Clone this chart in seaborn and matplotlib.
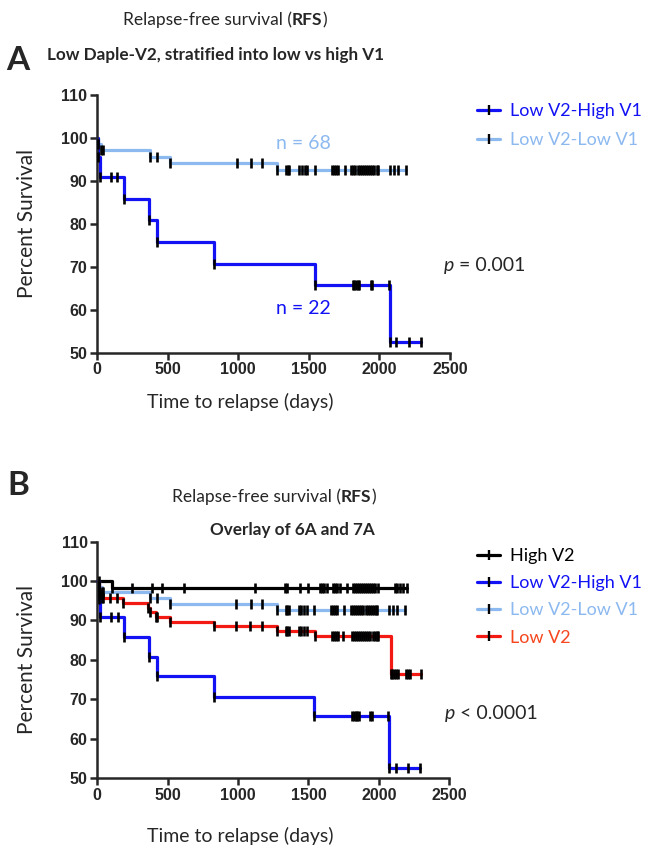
import numpy as np
import pandas as pd
import matplotlib
matplotlib.use("Agg")
import matplotlib.pyplot as plt
import seaborn as sns
from matplotlib.lines import Line2D

# Kaplan-Meier steps: time of each drop (days) and survival (%) after it, last point = end of follow-up
high_v1_t = [0, 10, 20, 191, 368, 422, 830, 1542, 2075, 2295]
high_v1_s = [100, 95.5, 90.9, 85.9, 80.8, 75.8, 70.7, 65.7, 52.5, 52.5]
high_v1_cens = [97, 144, 1810, 1822, 1834, 1846, 1858, 1938, 1950, 2068, 2120, 2210, 2295]

low_v1_t = [0, 10, 30, 375, 516, 1273, 2185]
low_v1_s = [100, 98.5, 97.1, 95.6, 94.1, 92.6, 92.6]
low_v1_cens = [40, 422, 988, 1089, 1172, 1337, 1350, 1363, 1430, 1450, 1470, 1487, 1542,
               1662, 1675, 1690, 1705, 1754, 1801, 1815, 1830, 1845, 1860, 1875, 1890,
               1905, 1920, 1935, 1950, 1965, 1980, 1990, 2072, 2100, 2131, 2185]

high_v2_t = [0, 102, 2198]
high_v2_s = [100, 98.1, 98.1]
high_v2_cens = [15, 244, 386, 458, 613, 1122, 1335, 1350, 1442, 1500, 1582, 1595, 1610, 1630,
                1674, 1690, 1705, 1724, 1771, 1816, 1830, 1845, 1860, 1875, 1890, 1901,
                1913, 1930, 1945, 1960, 1975, 1996, 2114, 2130, 2150, 2170, 2198]

low_v2_t = [0, 10, 20, 30, 185, 362, 375, 417, 516, 830, 1273, 1546, 2084, 2300]
low_v2_s = [100, 97.8, 96.7, 95.6, 94.4, 93.2, 92.1, 90.9, 89.7, 88.5, 87.3, 86.0, 76.5, 76.5]
low_v2_cens = [40, 90, 142, 422, 988, 1087, 1172, 1337, 1350, 1363, 1430, 1450, 1470, 1487,
               1665, 1680, 1695, 1713, 1747, 1807, 1820, 1835, 1850, 1865, 1880, 1895,
               1910, 1925, 1940, 1955, 1970, 1985, 1996, 2092, 2105, 2120, 2135, 2195,
               2210, 2222, 2300]

BLUE = "#1212f5"
LIGHT = "#8cb9f0"
RED = "#f21a12"
RED_TXT = "#f5461e"

sns.set_style("ticks")
plt.rcParams["font.family"] = ["Lato", "DejaVu Sans"]

fig = plt.figure(figsize=(6.52, 8.48), dpi=100)
axA = fig.add_axes([97 / 652, 1 - 352.7 / 848, 353 / 652, 257.7 / 848])
axB = fig.add_axes([97.3 / 652, 1 - 778.3 / 848, 352 / 652, 236.8 / 848])


def km(ax, t, s, cens, color):
    df = pd.DataFrame({"t": t, "s": s})
    sns.lineplot(data=df, x="t", y="s", ax=ax, color=color, linewidth=2.3,
                 drawstyle="steps-post", estimator=None, sort=False, clip_on=False)
    marks = np.array(sorted(set(t[1:-1]) | set(cens)))
    lvl = np.asarray(s)[np.searchsorted(t, marks, side="right") - 1]
    sns.scatterplot(x=marks, y=lvl, ax=ax, marker="|", color="black", edgecolor="black",
                    s=50, linewidth=1.9, zorder=5, clip_on=False)


def style(ax, xlab_top):
    ax.set_xlim(0, 2500)
    ax.set_ylim(50, 110)
    ax.set_xticks(range(0, 2501, 500))
    ax.set_yticks(range(50, 111, 10))
    sns.despine(ax=ax)
    for sp in ("left", "bottom"):
        ax.spines[sp].set_linewidth(1.8)
    ax.tick_params(width=1.8, length=5, direction="out", pad=2)
    for lab in ax.get_xticklabels() + ax.get_yticklabels():
        lab.set_family(["Liberation Sans", "DejaVu Sans"])
        lab.set_fontweight("bold")
        lab.set_fontsize(11.5)
    ax.set_xlabel("Time to relapse (days)", fontsize=14)
    ax.set_ylabel("Percent Survival", fontsize=15)
    ax.xaxis.set_label_coords(0.405, xlab_top)
    ax.yaxis.set_label_coords(-0.17, 0.5)


def chain(ax, prev, txt, **kw):
    return ax.annotate(txt, xy=(1, 0), xycoords=prev, va="bottom", ha="left",
                       annotation_clip=False, **kw)


def p_text(ax, x, y, rest):
    t = ax.text(x, y, "p", fontsize=14, style="italic", ha="left", va="center", clip_on=False)
    chain(ax, t, rest, fontsize=14)


# Panel A
km(axA, low_v1_t, low_v1_s, low_v1_cens, LIGHT)
km(axA, high_v1_t, high_v1_s, high_v1_cens, BLUE)
style(axA, -0.155)
axA.text(1464, 98.6, "n = 68", color=LIGHT, fontsize=14, ha="center", va="center")
axA.text(1464, 60.2, "n = 22", color=BLUE, fontsize=14, ha="center", va="center")
p_text(axA, 2455, 70.4, " = 0.001")

handlesA = [Line2D([0], [0], color=c, lw=2.3, marker="|", markeredgecolor="black",
                   markersize=7, mew=1.7) for c in (BLUE, LIGHT)]
axA.legend(handlesA, ["Low V2-High V1", "Low V2-Low V1"], loc="upper left",
           bbox_to_anchor=(477 / 652, 1 - 103 / 848), bbox_transform=fig.transFigure,
           frameon=False, fontsize=13, handlelength=1.3, handletextpad=0.55,
           labelspacing=0.72, borderpad=0, borderaxespad=0, labelcolor=[BLUE, LIGHT])

# Panel B
km(axB, high_v2_t, high_v2_s, high_v2_cens, "black")
km(axB, low_v1_t, low_v1_s, low_v1_cens, LIGHT)
km(axB, low_v2_t, low_v2_s, low_v2_cens, RED)
km(axB, high_v1_t, high_v1_s, high_v1_cens, BLUE)
style(axB, -0.205)
p_text(axB, 2465, 66.5, " < 0.0001")

colsB = ["black", BLUE, LIGHT, RED]
handlesB = [Line2D([0], [0], color=c, lw=2.3, marker="|", markeredgecolor="black",
                   markersize=7, mew=1.7) for c in colsB]
axB.legend(handlesB, ["High V2", "Low V2-High V1", "Low V2-Low V1", "Low V2"], loc="upper left",
           bbox_to_anchor=(477 / 652, 1 - 548 / 848), bbox_transform=fig.transFigure,
           frameon=False, fontsize=13, handlelength=1.3, handletextpad=0.55,
           labelspacing=0.62, borderpad=0, borderaxespad=0,
           labelcolor=["black", BLUE, LIGHT, RED_TXT])

# titles
for x, y in ((123 / 652, 1 - 20 / 848), (172 / 652, 1 - 497 / 848)):
    t1 = fig.text(x, y, "Relapse-free survival (", fontsize=12.5, va="center", ha="left")
    t2 = chain(axA, t1, "RFS", fontsize=12.5, fontweight="bold")
    chain(axA, t2, ")", fontsize=12.5)

fig.text(47 / 652, 1 - 55 / 848, "Low Daple-V2, stratified into low vs high V1",
         fontsize=12.3, fontweight="bold", va="center", ha="left")
fig.text(292 / 652, 1 - 530 / 848, "Overlay of 6A and 7A",
         fontsize=12.3, fontweight="bold", va="center", ha="center")
fig.text(18 / 652, 1 - 61 / 848, "A", fontsize=24, fontweight="bold", va="center", ha="center")
fig.text(18 / 652, 1 - 486 / 848, "B", fontsize=24, fontweight="bold", va="center", ha="center")

fig.savefig("out.png", dpi=100)
